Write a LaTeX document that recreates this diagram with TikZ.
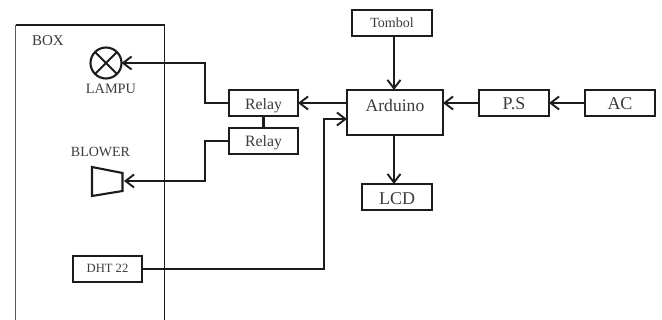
\documentclass[tikz,border=0pt]{standalone}
\usepackage{fontspec}
\setmainfont{Liberation Serif}
\usetikzlibrary{arrows.meta}
\definecolor{ink}{HTML}{1c1c1c}
\definecolor{txt}{HTML}{3c3c3c}
\newcommand{\lbl}[2]{\smash{\raisebox{#1}{#2}}}
\tikzset{
  x=1pt,y=-1pt,
  wire/.style={draw=ink,line width=2.2pt},
  arrowline/.style={wire,-{Straight Barb[length=8.5pt,width=13pt,line width=1.9pt]}},
  blockbox/.style={draw=ink,line width=2.4pt,text=txt,inner sep=0pt,outer sep=0pt},
  rel/.style={blockbox,minimum width=69pt,minimum height=26pt,font=\fontsize{15.8}{16}\selectfont},
  freetext/.style={text=txt,inner sep=0pt,anchor=base},
}
\begin{document}
\begin{tikzpicture}
\useasboundingbox (0,0) rectangle (662,320);
\fill[white] (0,0) rectangle (662,320);
% enclosure
\coordinate (bl) at (15.5,320);
\coordinate (tl) at (15.5,25);
\coordinate (tr) at (164.5,25);
\coordinate (br) at (164.5,320);
\draw[draw=black!65,line width=0.8pt] (bl) -- (tl);
\draw[draw=ink,line width=1.3pt] (tl) -- (tr);
\draw[draw=ink,line width=1.9pt] (tr) -- (br);
\node[freetext,font=\fontsize{15}{16}\selectfont] (boxlabel) at (48,45.7) {BOX};
% lamp
\node[circle,draw=ink,line width=2.1pt,minimum size=31pt,inner sep=0pt,outer sep=0pt] (lamp) at (106,63) {};
\draw[draw=ink,line width=2.1pt] (lamp.north west) -- (lamp.south east);
\draw[draw=ink,line width=2.1pt] (lamp.north east) -- (lamp.south west);
\node[freetext,font=\fontsize{14.3}{15}\selectfont] (lampu) at (111,93.7) {LAMPU};
% blower
\node[freetext,font=\fontsize{14}{15}\selectfont] (blowerlabel) at (100.5,156.7) {BLOWER};
\draw[draw=ink,line width=2.1pt,line join=miter] (92,167) -- (122.5,173) -- (122.5,191) -- (92,196) -- cycle;
\coordinate (blower) at (124,181);
% blocks
\node[rel] (relayA) at (263.5,103) {\lbl{-7pt}{Relay}};
\node[rel] (relayB) at (263.5,141) {\lbl{-6pt}{Relay}};
\node[blockbox,minimum width=69pt,minimum height=26pt,font=\fontsize{12.6}{13}\selectfont] (dht) at (107.5,269) {\lbl{-4pt}{DHT 22}};
\node[blockbox,minimum width=80pt,minimum height=26pt,font=\fontsize{14}{15}\selectfont] (tombol) at (392,23) {\lbl{-5pt}{Tombol}};
\node[blockbox,minimum width=96pt,minimum height=45pt,font=\fontsize{17.6}{18}\selectfont] (arduino) at (395,112.5) {\lbl{1pt}{Arduino}};
\node[blockbox,minimum width=70pt,minimum height=26pt,font=\fontsize{18}{19}\selectfont] (ps) at (514,103) {\lbl{-7pt}{P.S}};
\node[blockbox,minimum width=70pt,minimum height=26pt,font=\fontsize{18}{19}\selectfont] (ac) at (620,103) {\lbl{-7pt}{AC}};
\node[blockbox,minimum width=70pt,minimum height=26pt,font=\fontsize{18}{19}\selectfont] (lcd) at (397,197) {\lbl{-8pt}{LCD}};
% connectors
\draw[arrowline] (relayA.west) -- (205,103) -- (205,63) -- (lamp.east);
\draw[arrowline] (relayB.west) -- (205,141) -- (205,181) -- (blower);
\draw[wire] (relayA.south) -- (relayB.north);
\draw[arrowline] (dht.east) -- (324,269) -- (324,119) -- (arduino.west |- 0,119);
\draw[arrowline] (arduino.west |- relayA.east) -- (relayA.east);
\draw[arrowline] (ps.west) -- (arduino.east |- ps.west);
\draw[arrowline] (ac.west) -- (ps.east);
\draw[arrowline] (394,36) -- (394,90);
\draw[arrowline] (394,135) -- (394,184);
\end{tikzpicture}
\end{document}
